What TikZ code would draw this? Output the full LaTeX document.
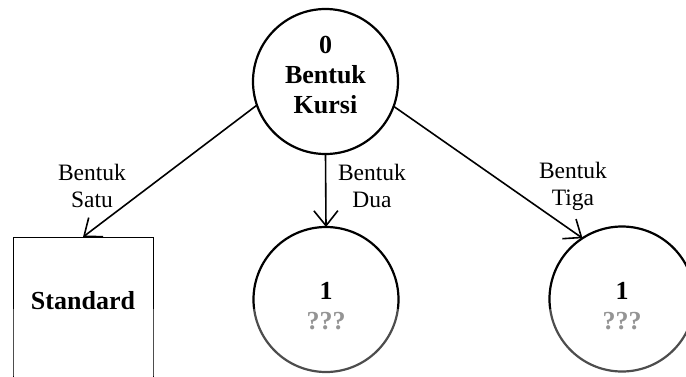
\documentclass[tikz,border=0pt]{standalone}
\usepackage{fontspec}
\setmainfont{Liberation Serif}
\usetikzlibrary{arrows.meta}
\begin{document}
\begin{tikzpicture}[x=1pt,y=-1pt,
  state/.style={circle,draw,line width=2.2pt,minimum size=145pt,inner sep=0pt,outer sep=0pt},
  boxnode/.style={rectangle,draw,line width=0.8pt,minimum width=140pt,minimum height=160pt,inner sep=0pt,outer sep=0pt},
  bigtxt/.style={font=\fontsize{26}{30}\selectfont\bfseries,align=center,inner sep=0pt},
  lbl/.style={font=\fontsize{23.5}{27}\selectfont,align=center,inner sep=0pt},
  conn/.style={line width=1.6pt,-{Straight Barb[length=15pt,width=24pt,line width=1.6pt]}}]
\useasboundingbox (0,0) rectangle (686,376);
\node[state] (root) at (325.5,81.5) {};
\node[bigtxt] (roottxt) at (325.5,75) {0\\Bentuk\\Kursi};
\node[boxnode] (std) at (83,317) {};
\node[bigtxt] (stdtxt) at (83,301) {Standard};
\node[state] (mid) at (326,299.5) {};
\node[bigtxt] (midtxt) at (326,306) {1\\\textcolor{black!60}{???}};
\node[state] (right) at (622,299) {};
\node[bigtxt] (righttxt) at (622,306) {1\\\textcolor{black!60}{???}};
\draw[conn] (root.199) -- (std.north);
\draw[conn] (root.south) -- (mid.north);
\draw[conn] (root.-20) -- (right.123);
\node[lbl] (l1) at (92,186) {Bentuk\\Satu};
\node[lbl] (l2) at (372,186) {Bentuk\\Dua};
\node[lbl] (l3) at (573,186) {Bentuk\\Tiga};
\fill[white,opacity=0.3] (0,309) rectangle (686,376);
\end{tikzpicture}
\end{document}
